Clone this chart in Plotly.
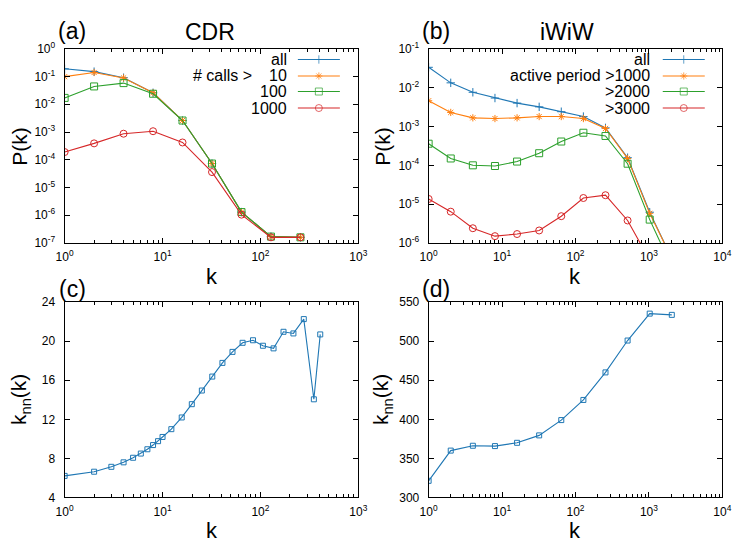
import plotly.graph_objects as go

# ---------------- data ----------------
# (a) CDR degree distribution
k_cdr = [1, 2, 4, 8, 16, 32, 64, 128, 256]
p_cdr_all = [0.19, 0.15, 0.091, 0.026, 0.0026, 7.3e-5, 1.3e-6, 1.7e-7, 1.6e-7]
p_cdr_10 = [0.099, 0.14, 0.089, 0.026, 0.0026, 7.3e-5, 1.3e-6, 1.7e-7, 1.6e-7]
p_cdr_100 = [0.017, 0.044, 0.058, 0.024, 0.0026, 7.3e-5, 1.3e-6, 1.7e-7, 1.6e-7]
p_cdr_1000 = [1.9e-4, 3.9e-4, 8.7e-4, 1.07e-3, 4.2e-4, 3.6e-5, 1.05e-6, 1.6e-7, 1.6e-7]
cdr_names = ["all", "10", "100", "1000"]

# (b) iWiW degree distribution
k_iwiw = [1, 2, 4, 8, 16, 32, 64, 128, 256, 512, 1024, 2048]
p_iwiw_all = [0.0334, 0.0133, 0.0076, 0.0054, 0.0040, 0.0032, 0.0024, 0.0018, 9.2e-4, 1.57e-4, 6.2e-6, 4.0e-7]
p_iwiw_1000 = [0.0046, 0.0023, 0.00167, 0.0016, 0.00167, 0.0018, 0.0018, 0.0016, 8.9e-4, 1.5e-4, 5.8e-6, 4.0e-7]
p_iwiw_2000 = [3.6e-4, 1.5e-4, 1.0e-4, 9.6e-5, 1.25e-4, 2.05e-4, 4.1e-4, 6.9e-4, 5.7e-4, 1.1e-4, 4.0e-6, 2.4e-7]
k_iwiw_3000 = [1, 2, 4, 8, 16, 32, 64, 128, 256, 512, 1024]
p_iwiw_3000 = [1.36e-5, 6.4e-6, 2.4e-6, 1.5e-6, 1.7e-6, 2.1e-6, 4.9e-6, 1.44e-5, 1.7e-5, 3.8e-6, 3.6e-7]
iwiw_names = ["all", "active period >1000", ">2000", ">3000"]

# (c) CDR k_nn(k)
k_knn_cdr = [1, 2, 3, 4, 5, 6, 7, 8, 9, 10, 12.3, 15.7, 19.9, 25.2, 32.2, 40.9,
             51.8, 65.7, 83.9, 106, 136, 172, 217, 277, 351, 408]
knn_cdr = [6.2, 6.63, 7.13, 7.59, 8.06, 8.49, 8.93, 9.36, 9.76, 10.19, 10.99, 12.19,
           13.55, 14.95, 16.38, 17.78, 18.91, 19.84, 20.1, 19.54, 19.27, 20.97,
           20.8, 22.27, 14.05, 20.7]

# (d) iWiW k_nn(k)
k_knn_iwiw = [1, 2, 4, 8, 16, 32, 64, 128, 256, 512, 1024, 2048]
knn_iwiw = [321.2, 359.9, 366.1, 365.7, 369.9, 379.4, 399.0, 424.8, 460.1, 500.9, 535.4, 533.8]

colors = ["#1f77b4", "#ff7f0e", "#2ca02c", "#d62728"]
symbols = ["cross-thin-open", "asterisk-open", "square-open", "circle-open"]
msizes = [6, 6, 7, 7]

W, H = 747, 550
FONT = "Liberation Sans, Arial, Helvetica, sans-serif"

def px_dom_x(a, b):
    return [a / W, b / W]

def px_dom_y(top, bot):
    return [1 - bot / H, 1 - top / H]

dom = {
    "a": (px_dom_x(57, 358), px_dom_y(41, 241)),
    "b": (px_dom_x(430, 731), px_dom_y(41, 241)),
    "c": (px_dom_x(57, 358), px_dom_y(302, 503)),
    "d": (px_dom_x(430, 731), px_dom_y(302, 503)),
}

fig = go.Figure()

def add_series(xs, ys, color, symbol, xa, ya, size=7):
    fig.add_trace(go.Scatter(
        x=xs, y=ys, mode="lines+markers", xaxis=xa, yaxis=ya,
        line=dict(color=color, width=1.1),
        marker=dict(symbol=symbol, size=size, color=color, line=dict(color=color, width=1)),
        showlegend=False, hoverinfo="skip"))

for ys, c, s, m in zip([p_cdr_all, p_cdr_10, p_cdr_100, p_cdr_1000], colors, symbols, msizes):
    add_series(k_cdr, ys, c, s, "x", "y", m)

iw_x = [k_iwiw, k_iwiw, k_iwiw, k_iwiw_3000]
for xs, ys, c, s, m in zip(iw_x, [p_iwiw_all, p_iwiw_1000, p_iwiw_2000, p_iwiw_3000], colors, symbols, msizes):
    add_series(xs, ys, c, s, "x2", "y2", m)

add_series(k_knn_cdr, knn_cdr, colors[0], "square-open", "x3", "y3", size=5)
add_series(k_knn_iwiw, knn_iwiw, colors[0], "square-open", "x4", "y4", size=5)

# legend keys on overlay axes (0..1 domain)
rows = [0.945, 0.86, 0.78, 0.695]
for (xa, ya, x0, x1) in [("x5", "y5", 0.794, 0.937), ("x6", "y6", 0.797, 0.940)]:
    for r, c, s, m in zip(rows, colors, symbols, msizes):
        fig.add_trace(go.Scatter(
            x=[x0, (x0 + x1) / 2, x1], y=[r, r, r], mode="lines+markers",
            xaxis=xa, yaxis=ya, line=dict(color=c, width=1.1),
            marker=dict(symbol=s, size=[0, m, 0], color=c, line=dict(color=c, width=1)),
            showlegend=False, hoverinfo="skip"))

def sup(n):
    return "10<sup>%d</sup>" % n

common = dict(ticks="inside", ticklen=5, tickwidth=1, tickcolor="black",
              showline=True, linecolor="black", linewidth=1, mirror="allticks",
              showgrid=False, zeroline=False,
              tickfont=dict(size=12, color="black", family=FONT))

def log_axis(domain, anchor, lo, hi):
    vals = [10 ** e for e in range(lo, hi + 1)]
    minor = [m * 10 ** e for e in range(lo, hi) for m in range(2, 10)]
    return dict(
        type="log", domain=domain, anchor=anchor, range=[lo, hi],
        tickmode="array", tickvals=vals, ticktext=[sup(e) for e in range(lo, hi + 1)],
        minor=dict(tickmode="array", tickvals=minor, ticks="inside", ticklen=3,
                   tickwidth=1, tickcolor="black"),
        ticklabelstandoff=3, **common)

def logy_axis(domain, anchor, lo, hi):
    vals = [10 ** e for e in range(lo, hi + 1)]
    return dict(
        type="log", domain=domain, anchor=anchor, range=[lo, hi],
        tickmode="array", tickvals=vals, ticktext=[sup(e) for e in range(lo, hi + 1)],
        ticklabelstandoff=6, **common)

def lin_axis(domain, anchor, lo, hi, dt):
    return dict(
        domain=domain, anchor=anchor, range=[lo, hi], tickmode="linear", tick0=lo, dtick=dt,
        ticklabelstandoff=6, **common)

fig.update_layout(
    width=W, height=H, margin=dict(l=0, r=0, t=0, b=0),
    paper_bgcolor="white", plot_bgcolor="white",
    font=dict(family=FONT, color="black"),
    xaxis=log_axis(dom["a"][0], "y", 0, 3),
    yaxis=logy_axis(dom["a"][1], "x", -7, 0),
    xaxis2=log_axis(dom["b"][0], "y2", 0, 4),
    yaxis2=logy_axis(dom["b"][1], "x2", -6, -1),
    xaxis3=log_axis(dom["c"][0], "y3", 0, 3),
    yaxis3=lin_axis(dom["c"][1], "x3", 4, 24, 4),
    xaxis4=log_axis(dom["d"][0], "y4", 0, 4),
    yaxis4=lin_axis(dom["d"][1], "x4", 300, 550, 50),
    xaxis5=dict(overlaying="x", range=[0, 1], visible=False, domain=dom["a"][0], anchor="y5"),
    yaxis5=dict(overlaying="y", range=[0, 1], visible=False, domain=dom["a"][1], anchor="x5"),
    xaxis6=dict(overlaying="x2", range=[0, 1], visible=False, domain=dom["b"][0], anchor="y6"),
    yaxis6=dict(overlaying="y2", range=[0, 1], visible=False, domain=dom["b"][1], anchor="x6"),
)

ann = []
def text(x, y, s, size, xanchor="center", yanchor="middle", textangle=0):
    ann.append(dict(x=x / W, y=1 - y / H, xref="paper", yref="paper", text=s,
                    showarrow=False, xanchor=xanchor, yanchor=yanchor, textangle=textangle,
                    font=dict(size=size, color="black", family=FONT)))

# titles and panel labels
text(206, 24, "CDR", 23)
text(572, 24, "iWiW", 23)
text(65, 23, "(a)", 23)
text(438, 23, "(b)", 23)
text(65, 288, "(c)", 23)
text(438, 288, "(d)", 23)
# axis titles
text(208, 276, "k", 22)
text(580, 276, "k", 22)
text(208, 537, "k", 22)
text(580, 537, "k", 22)
text(11, 141, "P(k)", 21, textangle=-90)
text(383, 141, "P(k)", 21, textangle=-90)
text(12, 402, "k<sub>nn</sub>(k)", 21, textangle=-90)
text(383, 402, "k<sub>nn</sub>(k)", 21, textangle=-90)

# legend texts
ypx = [52, 69, 85, 102]
for name, y in zip(cdr_names, ypx):
    text(287, y, name, 16, xanchor="right")
text(251, 69, "# calls >", 16, xanchor="right")
for name, y in zip(iwiw_names, ypx):
    text(659, y, name, 16, xanchor="right")

fig.update_layout(annotations=ann)
fig.write_html("out.html", config={"displayModeBar": False},
               post_script="document.body.style.margin='0';document.body.style.overflow='hidden';")
